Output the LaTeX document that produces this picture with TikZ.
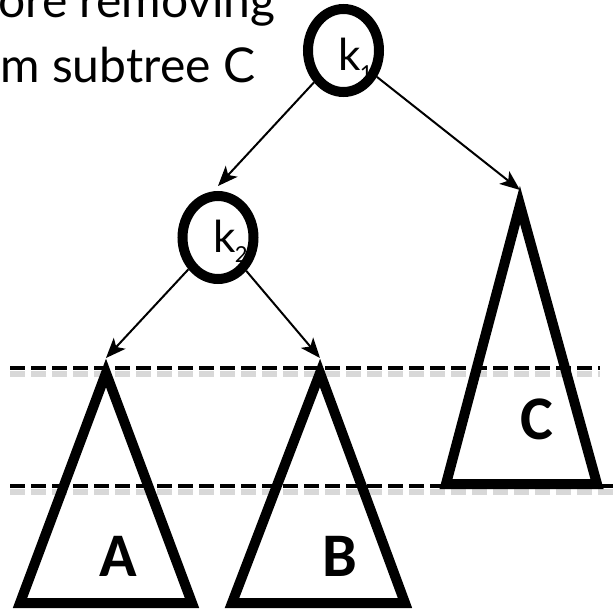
\documentclass[tikz,border=0pt]{standalone}
\usepackage{fontspec}
\setmainfont{Lato}
\newfontfamily\labfont{Carlito}
\usetikzlibrary{arrows.meta,shapes.geometric}
\begin{document}
\begin{tikzpicture}[x=0.5pt,y=-0.5pt,
  keynode/.style={ellipse,draw,line width=5pt,minimum width=35.5pt,minimum height=41.5pt,inner sep=0pt},
  arr/.style={line width=1pt,-{Stealth[length=10pt,width=8pt,inset=2.5pt]}},
  tri/.style={line width=5pt,line join=miter},
  level/.style={line width=2pt,dash pattern=on 7.5pt off 3pt},
  levelshadow/.style={line width=3pt,dash pattern=on 7.5pt off 3pt,black!30,opacity=0.5},
  tlabel/.style={font=\labfont\bfseries\fontsize{31}{31}\selectfont,inner sep=0pt},
  ktext/.style={font=\fontsize{22}{22}\selectfont,inner sep=0pt,anchor=base west},
  captext/.style={font=\fontsize{24}{30}\selectfont,inner sep=0pt,anchor=base west}]
\useasboundingbox (0,0) rectangle (616,615);
% caption
\node[captext] (line1) at (-2,18) {ore removing};
\node[captext] (line2) at (0,83) {m subtree C};
% level lines
\coordinate (u1) at (10,368); \coordinate (u2) at (600,368);
\coordinate (d1) at (10,486); \coordinate (d2) at (616,486);
\draw[levelshadow] ([yshift=-3pt]u1) -- ([yshift=-3pt]u2);
\draw[levelshadow] ([yshift=-3pt]d1) -- ([yshift=-3pt]d2);
\draw[level] (u1) -- (u2);
\draw[level] (d1) -- (d2);
% subtrees
\coordinate (Aapex) at (106,373); \coordinate (Abl) at (20,603); \coordinate (Abr) at (192,603);
\coordinate (Bapex) at (320,373); \coordinate (Bbl) at (232,603); \coordinate (Bbr) at (405,603);
\coordinate (Capex) at (520,205); \coordinate (Cbl) at (446,484); \coordinate (Cbr) at (597,484);
\draw[tri] (Aapex) -- (Abl) -- (Abr) -- cycle;
\draw[tri] (Bapex) -- (Bbl) -- (Bbr) -- cycle;
\draw[tri] (Capex) -- (Cbl) -- (Cbr) -- cycle;
\node[tlabel] (A) at (118,556) {A};
\node[tlabel] (B) at (340,556) {B};
\node[tlabel] (C) at (537,419) {C};
% keys
\node[keynode] (k1) at (343.5,50.5) {};
\node[keynode] (k2) at (218,237.5) {};
\node[ktext] (k1t) at (338,71) {k\kern-0.5pt\raisebox{-5.5pt}{\fontsize{11}{11}\selectfont 1}};
\node[ktext] (k2t) at (213,252) {k\kern-0.5pt\raisebox{-5.5pt}{\fontsize{11}{11}\selectfont 2}};
% arrow targets
\coordinate (Atop) at (106,358);
\coordinate (Btop) at (320,358);
\coordinate (Ctop) at (520,190);
\draw[arr] (k1) -- ([yshift=2.5pt]k2.north);
\draw[arr] (k1) -- (Ctop);
\draw[arr] (k2) -- (Atop);
\draw[arr] (k2) -- (Btop);
\end{tikzpicture}
\end{document}
